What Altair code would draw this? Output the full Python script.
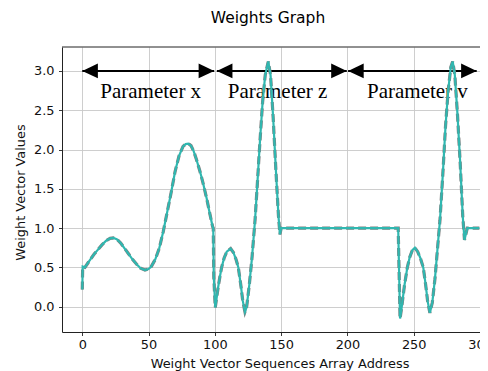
import altair as alt
import pandas as pd

# ---- data ----
addresses = [0, 0.3, 2, 4, 6, 9, 12, 15, 18, 21, 23.4, 26, 29, 32, 35, 38, 41, 44, 47.3, 50,
             52, 55, 58, 61, 64, 67, 70, 73, 76, 78, 80, 82, 84, 86, 88.8, 91, 93.8, 96, 98.3, 98.8,
             99.2, 100.3, 101.5, 102.6, 104, 105.1, 107, 109, 111.9, 114, 116, 117.7, 119.7, 121, 122.7,
             124, 126, 128, 130.3, 132, 134, 136, 138, 140.3, 142, 144, 146, 148, 149.1, 150,
             170, 200, 238.3, 239.7, 241, 243, 245.2, 247, 249, 250.9, 253, 255, 257.2, 259, 260.5,
             262.2, 264, 266, 268, 269.8, 272, 274, 276, 278, 279.4, 281, 283, 285, 287, 288.3, 290.4, 299.5]
weights = [0.22, 0.51, 0.5, 0.55, 0.6, 0.67, 0.73, 0.79, 0.84, 0.87, 0.875, 0.86, 0.81, 0.74, 0.67, 0.6, 0.54, 0.49, 0.467, 0.48,
           0.51, 0.6, 0.74, 0.95, 1.2, 1.45, 1.72, 1.92, 2.04, 2.07, 2.075, 2.05, 1.98, 1.88, 1.72, 1.58, 1.38, 1.2, 1.02, 1.0,
           0.38, -0.01, 0.13, 0.26, 0.4, 0.5, 0.62, 0.7, 0.74, 0.69, 0.6, 0.5, 0.26, 0.08, -0.065,
           0.0, 0.28, 0.62, 1.1, 1.55, 2.1, 2.6, 2.95, 3.12, 2.95, 2.4, 1.75, 1.15, 0.92, 1.0,
           1.0, 1.0, 1.0, -0.15, 0.0, 0.27, 0.5, 0.63, 0.72, 0.75, 0.7, 0.62, 0.5, 0.28, 0.07,
           -0.078, 0.05, 0.35, 0.75, 1.1, 1.7, 2.3, 2.75, 3.05, 3.12, 2.95, 2.45, 1.85, 1.15, 0.85, 1.0, 1.0]

x_ticks = [0, 50, 100, 150, 200, 250, 300]
y_ticks = [0.0, 0.5, 1.0, 1.5, 2.0, 2.5, 3.0]

arrow_start = [0, 101.5, 200.5]
arrow_end = [99.5, 199.5, 297.5]
arrow_level = [3.0, 3.0, 3.0]

label_text = ["Parameter x", "Parameter z", "Parameter v"]
label_x = [51.6, 147.3, 252.8]
label_y = [2.65, 2.65, 2.65]

# ---- tables ----
curve = pd.DataFrame({"address": addresses, "weight": weights, "order": list(range(len(addresses)))})
arrows = pd.DataFrame({"start": arrow_start, "end": arrow_end, "level": arrow_level})
labels = pd.DataFrame({"text": label_text, "x": label_x, "y": label_y})
frame = pd.DataFrame({"k": [0]})

W, H = 418, 285
xscale = alt.Scale(domain=[-15.3, 300.0], nice=False, zero=False)
yscale = alt.Scale(domain=[-0.322, 3.305], nice=False, zero=False)

x_axis = alt.Axis(values=x_ticks, format="d", title="Weight Vector Sequences Array Address",
                  labelPadding=3, labelFlush=False, titleX=217.5, titleY=31,
                  titleAlign="center", titleBaseline="middle")
y_axis = alt.Axis(values=y_ticks, format=".1f", title="Weight Vector Values",
                  labelPadding=4.5, labelFlush=False, titleX=-42, titleY=145, titleAngle=270,
                  titleAlign="center", titleBaseline="middle")


def X(field):
    return alt.X(field, type="quantitative", scale=xscale, axis=x_axis)


def Y(field):
    return alt.Y(field, type="quantitative", scale=yscale, axis=y_axis)


base_line = alt.Chart(curve).encode(x=X("address"), y=Y("weight"), order="order:Q")

gray = base_line.mark_line(color="#7f7f7f", strokeWidth=3.2, strokeDash=[8, 4])
teal = base_line.mark_line(color="#30b7b0", strokeWidth=2.2)

shafts = alt.Chart(arrows).mark_rule(color="black", strokeWidth=2).encode(
    x=X("start"), x2="end:Q", y=Y("level")
)
left_heads = alt.Chart(arrows).mark_point(
    shape="M 0 0 L 2 -0.95 L 2 0.95 Z", filled=True, color="black", size=243, opacity=1, strokeWidth=0
).encode(x=X("start"), y=Y("level"))
right_heads = alt.Chart(arrows).mark_point(
    shape="M 0 0 L -2 -0.95 L -2 0.95 Z", filled=True, color="black", size=243, opacity=1, strokeWidth=0
).encode(x=X("end"), y=Y("level"))

texts = alt.Chart(labels).mark_text(
    font="Liberation Serif", fontSize=21, align="center", baseline="alphabetic", color="black"
).encode(x=X("x"), y=Y("y"), text="text:N")

top_edge = alt.Chart(frame).mark_rule(color="#222222", strokeWidth=1).encode(
    x=alt.value(0), x2=alt.value(W), y=alt.value(0)
)

chart = alt.layer(shafts, left_heads, right_heads, texts, gray, teal, top_edge).properties(
    width=W, height=H,
    autosize=alt.AutoSizeParams(type="none"),
    padding={"left": 54, "top": 39, "right": 0, "bottom": 39},
    title=alt.TitleParams("Weights Graph", font="DejaVu Sans", fontSize=15.5, fontWeight="normal",
                          color="black", anchor="middle", dx=-3, offset=8, baseline="alphabetic"),
).configure_view(strokeWidth=0).configure_axis(
    grid=True, gridColor="#c8c8c8", gridWidth=0.9,
    domainColor="#222222", domainWidth=1,
    tickColor="#222222", tickSize=3.5, tickWidth=0.9,
    labelFont="DejaVu Sans", labelFontSize=12.9, labelColor="#111111",
    titleFont="DejaVu Sans", titleFontSize=12.9, titleFontWeight="normal", titleColor="#111111",
)

chart.save("out.html", embed_options={"renderer": "svg", "actions": False})
